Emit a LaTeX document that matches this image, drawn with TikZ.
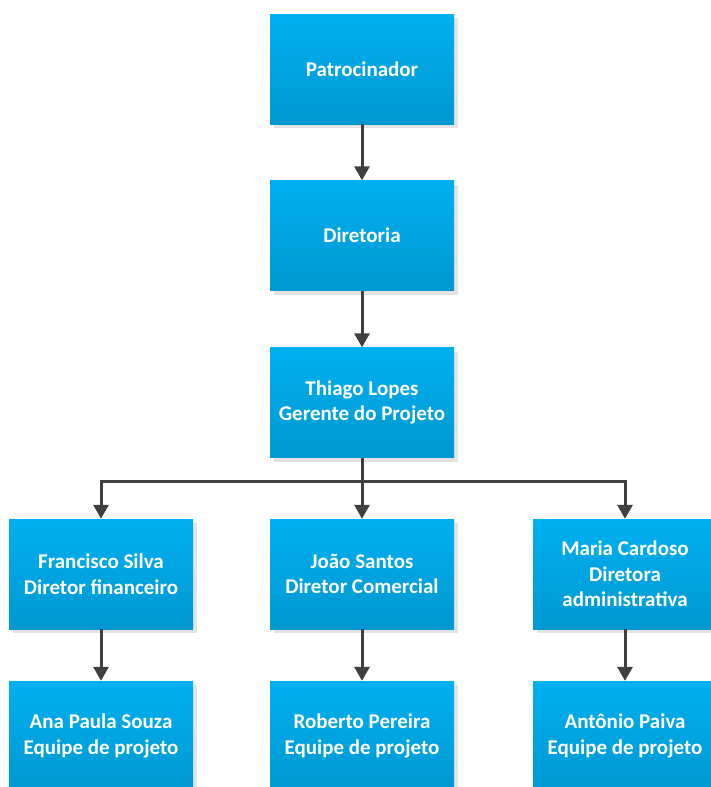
\documentclass[tikz,border=0pt]{standalone}
\usepackage{fontspec}
\setmainfont{Carlito}
\usetikzlibrary{arrows.meta,shadows}
\definecolor{boxtop}{RGB}{0,176,240}
\definecolor{boxbot}{RGB}{0,152,208}
\definecolor{wire}{RGB}{64,64,64}
\tikzset{
  orgbox/.style={rectangle, minimum width=184pt, minimum height=110pt, inner sep=0pt,
    top color=boxtop, bottom color=boxbot, draw=none,
    drop shadow={shadow xshift=4pt, shadow yshift=-4pt, fill=black!11, opacity=1},
    align=center, text=white, font=\fontsize{21}{25.5}\selectfont\bfseries},
  link/.style={draw=wire, line width=3pt, line join=miter,
    -{Triangle[width=15pt,length=14pt]}},
}
\begin{document}
\begin{tikzpicture}[x=1pt,y=-1pt]
\useasboundingbox (0,0) rectangle (710,787);
% top chain
\node[orgbox] (pat) at (362,69) {Patrocinador};
\node[orgbox] (dir) at (362,235.5) {Diretoria};
\node[orgbox] (ger) at (362,402.5) {Thiago Lopes\\Gerente do Projeto};
% directors
\node[orgbox] (fin) at (101,574) {Francisco Silva\\Diretor financeiro};
\node[orgbox] (com) at (362,574) {João Santos\\Diretor Comercial};
\node[orgbox] (adm) at (625,574) {Maria Cardoso\\Diretora\\administrativa};
% teams
\node[orgbox] (ana) at (101,736) {Ana Paula Souza\\Equipe de projeto};
\node[orgbox] (rob) at (362,736) {Roberto Pereira\\Equipe de projeto};
\node[orgbox] (ant) at (625,736) {Antônio Paiva\\Equipe de projeto};
% branch point below the manager
\coordinate (split) at (362,481);
% connectors
\draw[link] (pat) -- (dir);
\draw[link] (dir) -- (ger);
\draw[link] (ger.south) -- (split) -| (fin.north);
\draw[link] (split) -| (adm.north);
\draw[link] (split) -- (com.north);
\draw[link] (fin) -- (ana);
\draw[link] (com) -- (rob);
\draw[link] (adm) -- (ant);
\end{tikzpicture}
\end{document}
